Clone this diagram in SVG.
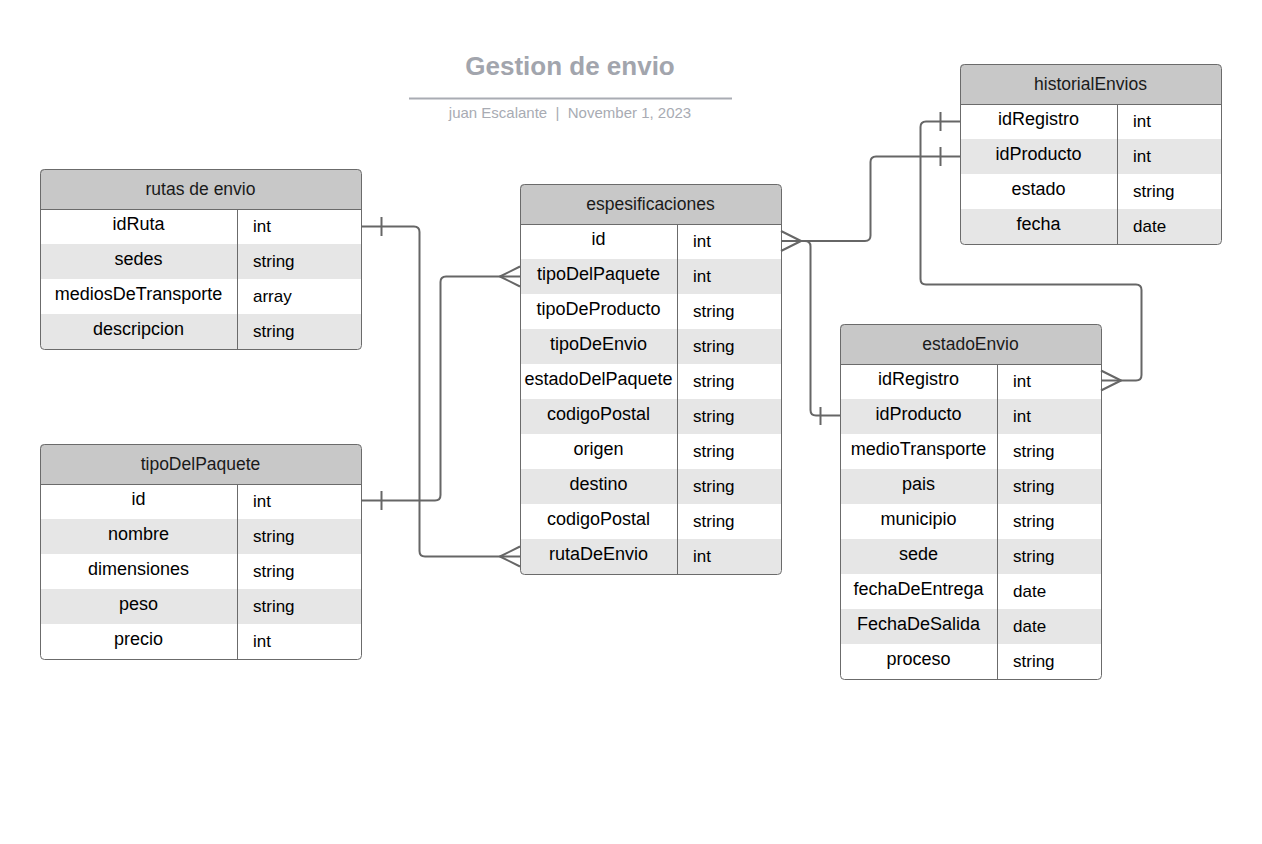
<svg xmlns="http://www.w3.org/2000/svg" width="1262" height="844" viewBox="0 0 1262 844">
<style>
.hdr{fill:#c8c8c8}
.alt{fill:#e6e6e6}
.frame{fill:none;stroke:#6b6b6b;stroke-width:1}
.div{stroke:#6b6b6b;stroke-width:1}
.ttl{font-family:"Liberation Sans",Arial,sans-serif;font-size:17.5px;fill:#1a1a1a;text-anchor:middle}
.nm{font-family:"Liberation Sans",Arial,sans-serif;font-size:18px;fill:#000;text-anchor:middle}
.tp{font-family:"Liberation Sans",Arial,sans-serif;font-size:17px;fill:#000}
.conn{fill:none;stroke:#666;stroke-width:2;stroke-linejoin:round}
</style>
<defs>
<clipPath id="c1"><rect x="40" y="169" width="321" height="180" rx="4"/></clipPath>
<clipPath id="c2"><rect x="40" y="444" width="321" height="215" rx="4"/></clipPath>
<clipPath id="c3"><rect x="520" y="184" width="261" height="390" rx="4"/></clipPath>
<clipPath id="c4"><rect x="960" y="64" width="261" height="180" rx="4"/></clipPath>
<clipPath id="c5"><rect x="840" y="324" width="261" height="355" rx="4"/></clipPath>
</defs>
<rect width="1262" height="844" fill="#fff"/>
<g id="title">
<text x="570" y="75" font-family="Liberation Sans,Arial,sans-serif" font-size="26" font-weight="bold" fill="#a2a5ad" text-anchor="middle">Gestion de envio</text>
<line x1="409" y1="98.5" x2="732" y2="98.5" stroke="#a9acb3" stroke-width="2"/>
<text x="570" y="118" font-family="Liberation Sans,Arial,sans-serif" font-size="15" fill="#a8abb3" text-anchor="middle" xml:space="preserve">juan Escalante  |  November 1, 2023</text>
</g>
<g id="rutas-de-envio">
<g clip-path="url(#c1)">
<rect x="40" y="169" width="321" height="180" fill="#fff"/>
<rect class="hdr" x="40" y="169" width="321" height="40"/>
<rect class="alt" x="40" y="244" width="321" height="35"/>
<rect class="alt" x="40" y="314" width="321" height="35"/>
</g>
<line class="div" x1="40" y1="209.5" x2="361" y2="209.5"/>
<line class="div" x1="237.5" y1="209" x2="237.5" y2="349"/>
<rect class="frame" x="40.5" y="169.5" width="321" height="180" rx="4"/>
<text class="ttl" x="200.5" y="195">rutas de envio</text>
<text class="nm" x="138.5" y="230">idRuta</text><text class="tp" x="253" y="232">int</text>
<text class="nm" x="138.5" y="265">sedes</text><text class="tp" x="253" y="267">string</text>
<text class="nm" x="138.5" y="300">mediosDeTransporte</text><text class="tp" x="253" y="302">array</text>
<text class="nm" x="138.5" y="335">descripcion</text><text class="tp" x="253" y="337">string</text>
</g>
<g id="tipoDelPaquete">
<g clip-path="url(#c2)">
<rect x="40" y="444" width="321" height="215" fill="#fff"/>
<rect class="hdr" x="40" y="444" width="321" height="40"/>
<rect class="alt" x="40" y="519" width="321" height="35"/>
<rect class="alt" x="40" y="589" width="321" height="35"/>
</g>
<line class="div" x1="40" y1="484.5" x2="361" y2="484.5"/>
<line class="div" x1="237.5" y1="484" x2="237.5" y2="659"/>
<rect class="frame" x="40.5" y="444.5" width="321" height="215" rx="4"/>
<text class="ttl" x="200.5" y="470">tipoDelPaquete</text>
<text class="nm" x="138.5" y="505">id</text><text class="tp" x="253" y="507">int</text>
<text class="nm" x="138.5" y="540">nombre</text><text class="tp" x="253" y="542">string</text>
<text class="nm" x="138.5" y="575">dimensiones</text><text class="tp" x="253" y="577">string</text>
<text class="nm" x="138.5" y="610">peso</text><text class="tp" x="253" y="612">string</text>
<text class="nm" x="138.5" y="645">precio</text><text class="tp" x="253" y="647">int</text>
</g>
<g id="espesificaciones">
<g clip-path="url(#c3)">
<rect x="520" y="184" width="261" height="390" fill="#fff"/>
<rect class="hdr" x="520" y="184" width="261" height="40"/>
<rect class="alt" x="520" y="259" width="261" height="35"/>
<rect class="alt" x="520" y="329" width="261" height="35"/>
<rect class="alt" x="520" y="399" width="261" height="35"/>
<rect class="alt" x="520" y="469" width="261" height="35"/>
<rect class="alt" x="520" y="539" width="261" height="35"/>
</g>
<line class="div" x1="520" y1="224.5" x2="781" y2="224.5"/>
<line class="div" x1="677.5" y1="224" x2="677.5" y2="574"/>
<rect class="frame" x="520.5" y="184.5" width="261" height="390" rx="4"/>
<text class="ttl" x="650.5" y="210">espesificaciones</text>
<text class="nm" x="598.5" y="245">id</text><text class="tp" x="693" y="247">int</text>
<text class="nm" x="598.5" y="280">tipoDelPaquete</text><text class="tp" x="693" y="282">int</text>
<text class="nm" x="598.5" y="315">tipoDeProducto</text><text class="tp" x="693" y="317">string</text>
<text class="nm" x="598.5" y="350">tipoDeEnvio</text><text class="tp" x="693" y="352">string</text>
<text class="nm" x="598.5" y="385">estadoDelPaquete</text><text class="tp" x="693" y="387">string</text>
<text class="nm" x="598.5" y="420">codigoPostal</text><text class="tp" x="693" y="422">string</text>
<text class="nm" x="598.5" y="455">origen</text><text class="tp" x="693" y="457">string</text>
<text class="nm" x="598.5" y="490">destino</text><text class="tp" x="693" y="492">string</text>
<text class="nm" x="598.5" y="525">codigoPostal</text><text class="tp" x="693" y="527">string</text>
<text class="nm" x="598.5" y="560">rutaDeEnvio</text><text class="tp" x="693" y="562">int</text>
</g>
<g id="historialEnvios">
<g clip-path="url(#c4)">
<rect x="960" y="64" width="261" height="180" fill="#fff"/>
<rect class="hdr" x="960" y="64" width="261" height="40"/>
<rect class="alt" x="960" y="139" width="261" height="35"/>
<rect class="alt" x="960" y="209" width="261" height="35"/>
</g>
<line class="div" x1="960" y1="104.5" x2="1221" y2="104.5"/>
<line class="div" x1="1117.5" y1="104" x2="1117.5" y2="244"/>
<rect class="frame" x="960.5" y="64.5" width="261" height="180" rx="4"/>
<text class="ttl" x="1090.5" y="90">historialEnvios</text>
<text class="nm" x="1038.5" y="125">idRegistro</text><text class="tp" x="1133" y="127">int</text>
<text class="nm" x="1038.5" y="160">idProducto</text><text class="tp" x="1133" y="162">int</text>
<text class="nm" x="1038.5" y="195">estado</text><text class="tp" x="1133" y="197">string</text>
<text class="nm" x="1038.5" y="230">fecha</text><text class="tp" x="1133" y="232">date</text>
</g>
<g id="estadoEnvio">
<g clip-path="url(#c5)">
<rect x="840" y="324" width="261" height="355" fill="#fff"/>
<rect class="hdr" x="840" y="324" width="261" height="40"/>
<rect class="alt" x="840" y="399" width="261" height="35"/>
<rect class="alt" x="840" y="469" width="261" height="35"/>
<rect class="alt" x="840" y="539" width="261" height="35"/>
<rect class="alt" x="840" y="609" width="261" height="35"/>
</g>
<line class="div" x1="840" y1="364.5" x2="1101" y2="364.5"/>
<line class="div" x1="997.5" y1="364" x2="997.5" y2="679"/>
<rect class="frame" x="840.5" y="324.5" width="261" height="355" rx="4"/>
<text class="ttl" x="970.5" y="350">estadoEnvio</text>
<text class="nm" x="918.5" y="385">idRegistro</text><text class="tp" x="1013" y="387">int</text>
<text class="nm" x="918.5" y="420">idProducto</text><text class="tp" x="1013" y="422">int</text>
<text class="nm" x="918.5" y="455">medioTransporte</text><text class="tp" x="1013" y="457">string</text>
<text class="nm" x="918.5" y="490">pais</text><text class="tp" x="1013" y="492">string</text>
<text class="nm" x="918.5" y="525">municipio</text><text class="tp" x="1013" y="527">string</text>
<text class="nm" x="918.5" y="560">sede</text><text class="tp" x="1013" y="562">string</text>
<text class="nm" x="918.5" y="595">fechaDeEntrega</text><text class="tp" x="1013" y="597">date</text>
<text class="nm" x="918.5" y="630">FechaDeSalida</text><text class="tp" x="1013" y="632">date</text>
<text class="nm" x="918.5" y="665">proceso</text><text class="tp" x="1013" y="667">string</text>
</g>
<g id="connectors">
<path class="conn" d="M361,226.5 H414 Q419.5,226.5 419.5,232 V551 Q419.5,556.5 425,556.5 H520"/>
<path class="conn" d="M381.5,217 V236"/>
<path class="conn" d="M520,546.5 L500,556.5 L520,566.5"/>
<path class="conn" d="M361,500.5 H435 Q440.5,500.5 440.5,495 V282 Q440.5,276.5 446,276.5 H520"/>
<path class="conn" d="M381.5,491 V510"/>
<path class="conn" d="M520,266.5 L500,276.5 L520,286.5"/>
<path class="conn" d="M781,241 H865 Q870.5,241 870.5,235.5 V162 Q870.5,156.5 876,156.5 H960"/>
<path class="conn" d="M781,231 L801,241 L781,251"/>
<path class="conn" d="M940.5,147 V166"/>
<path class="conn" d="M801,241 H805 Q810.5,241 810.5,246.5 V410 Q810.5,415.5 816,415.5 H840"/>
<path class="conn" d="M820.5,407 V425"/>
<path class="conn" d="M960,121.5 H926 Q920.5,121.5 920.5,127 V279 Q920.5,284.5 926,284.5 H1136 Q1141.5,284.5 1141.5,290 V375 Q1141.5,380.5 1136,380.5 H1101"/>
<path class="conn" d="M940.5,112 V131"/>
<path class="conn" d="M1101,370.5 L1121,380.5 L1101,390.5"/>
</g>
</svg>
